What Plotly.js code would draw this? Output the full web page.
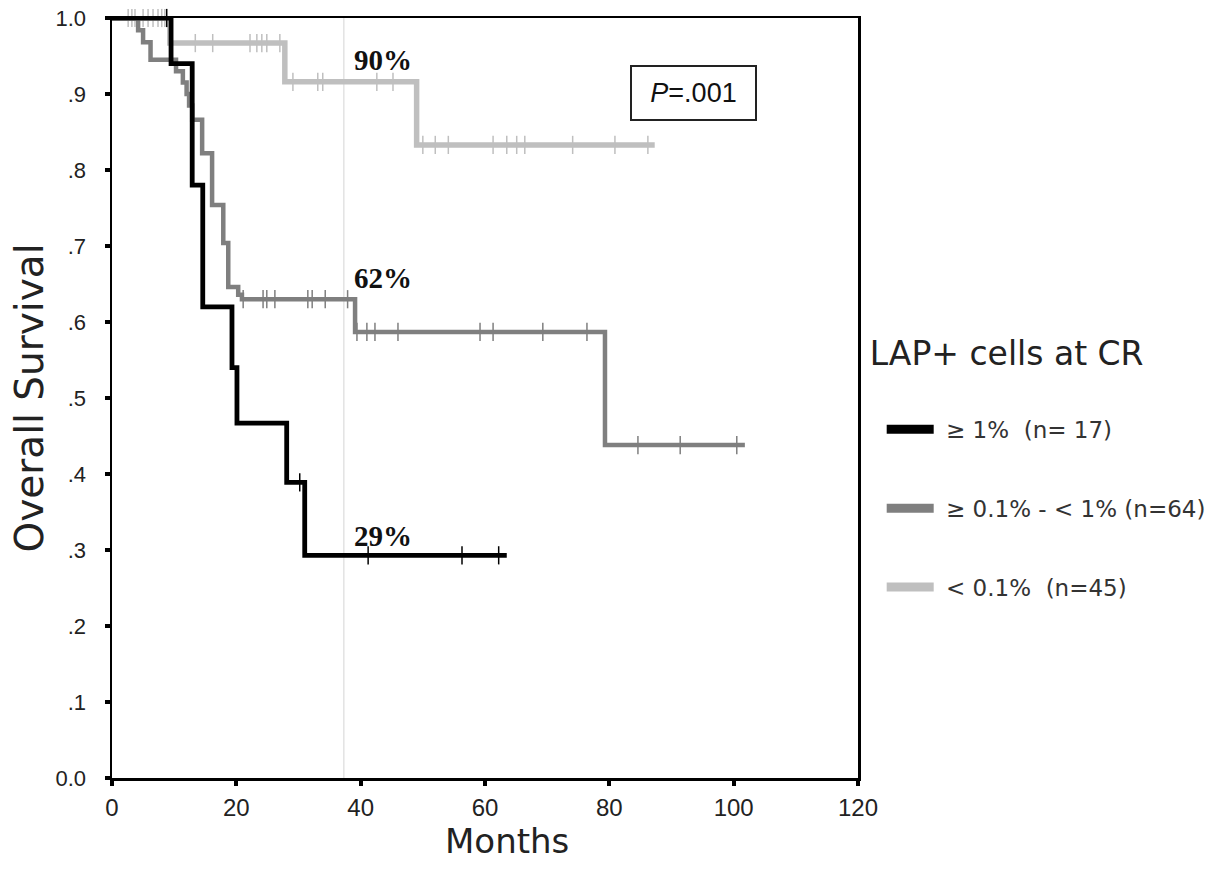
<!DOCTYPE html>
<html>
<head>
<meta charset="utf-8">
<script src="https://cdn.plot.ly/plotly-3.0.1.min.js"></script>
<style>html,body{margin:0;padding:0;background:#fff;}#chart{width:1211px;height:879px;}</style>
</head>
<body>
<div id="chart"></div>
<script>
// ---- Data ----
const groupNames = ["\u00a0\u2265 1%\u00a0\u00a0(n= 17)", "\u00a0\u2265 0.1% - < 1% (n=64)", "\u00a0< 0.1%\u00a0\u00a0(n=45)"];
const groupColors = ["#000000", "#7f7f7f", "#bfbfbf"];

// >= 1% (n=17)
const highTimes = [0, 9.5, 12.9, 14.6, 19.3, 20.1, 28.1, 31.0, 63.5];
const highSurv  = [1, 0.94, 0.78, 0.62, 0.54, 0.467, 0.389, 0.293, 0.293];
const highCensor = [8.8, 30.2, 41.2, 56.3, 62.2];

// >= 0.1% - < 1% (n=64)
const midTimes = [0, 4.2, 5.0, 6.2, 10.3, 11.4, 12.0, 12.4, 12.9, 14.5, 16.1, 17.9, 18.7, 20.3, 20.9, 39.1, 79.3, 101.8];
const midSurv  = [1, 0.984, 0.968, 0.945, 0.93, 0.915, 0.90, 0.885, 0.866, 0.822, 0.754, 0.704, 0.646, 0.636, 0.63, 0.587, 0.438, 0.438];
const midCensor = [21.1, 24.3, 24.9, 26.2, 31.5, 32.2, 34.3, 37.9, 39.4, 41.0, 42.3, 46.0, 59.2, 61.3, 69.3, 76.4, 84.6, 91.4, 100.5];

// < 0.1% (n=45)
const lowTimes = [0, 9.3, 27.8, 49.0, 87.3];
const lowSurv  = [1, 0.967, 0.916, 0.833, 0.833];
const lowCensor = [2.6, 3.2, 3.7, 5.0, 5.8, 6.6, 7.4, 8.0, 8.5, 13.4, 16.2, 22.2, 23.3, 24.1, 24.9, 27.0, 29.1, 33.1, 33.9, 42.6, 45.2, 50.0, 52.0, 54.1, 61.3, 63.5, 65.1, 66.4, 74.1, 80.9, 86.2];

// Annotations
const pctLabels = ["90%", "62%", "29%"];
const pctX = [43.6, 43.6, 43.6];
const pctY = [0.945, 0.658, 0.318];
const pValueText = "<i>P</i>=.001";
const refLineMonth = 37.3;
const xTitle = "Months";
const yTitle = "Overall Survival";
const legendTitle = "LAP+ cells at CR";

const yTickVals = [0, 0.1, 0.2, 0.3, 0.4, 0.5, 0.6, 0.7, 0.8, 0.9, 1.0];
const yTickText = ["0.0", ".1", ".2", ".3", ".4", ".5", ".6", ".7", ".8", ".9", "1.0"];
const xTickVals = [0, 20, 40, 60, 80, 100, 120];

// ---- helpers ----
function stepAt(times, surv, t) {
  let v = surv[0];
  for (let i = 0; i < times.length; i++) { if (times[i] <= t) v = surv[i]; }
  return v;
}
const font = "Arial, 'Liberation Sans', sans-serif";
const wideFont = "'DejaVu Sans', Verdana, sans-serif";

const curves = [
  {t: midTimes, s: midSurv, c: midCensor, idx: 1, w: 4.5},
  {t: lowTimes, s: lowSurv, c: lowCensor, idx: 2, w: 5.5},
  {t: highTimes, s: highSurv, c: highCensor, idx: 0, w: 4.8}
];
const traces = [];
curves.forEach(cv => {
  traces.push({
    x: cv.t, y: cv.s, type: 'scatter', mode: 'lines',
    line: {shape: 'hv', color: groupColors[cv.idx], width: cv.w},
    showlegend: false, hoverinfo: 'skip'
  });
  traces.push({
    x: cv.c, y: cv.c.map(t => stepAt(cv.t, cv.s, t)), type: 'scatter', mode: 'markers',
    marker: {symbol: 'line-ns-open', size: 13, color: groupColors[cv.idx], line: {width: 1.5, color: groupColors[cv.idx]}},
    showlegend: false, hoverinfo: 'skip', cliponaxis: false
  });
});
// legend entries
groupNames.forEach((nm, i) => {
  traces.push({
    x: [null], y: [null], type: 'scatter', mode: 'lines', name: nm,
    legendgroup: 'g' + i,
    line: {color: groupColors[i], width: 9}
  });
});

const annotations = pctLabels.map((txt, i) => ({
  x: pctX[i], y: pctY[i], xref: 'x', yref: 'y', text: '<b>' + txt + '</b>', showarrow: false,
  font: {family: "'Times New Roman', 'Liberation Serif', serif", size: 29, color: '#111'}
}));
annotations.push({
  x: 93.5, y: 0.901, xref: 'x', yref: 'y', text: pValueText, showarrow: false,
  font: {family: font, size: 27, color: '#111'},
  bordercolor: '#222', borderwidth: 2, borderpad: 0, width: 123, height: 52, bgcolor: '#fff'
});
// x-axis title (placed slightly right of centre, as in the original)
annotations.push({
  x: 0.5295, y: -0.0835, xref: 'paper', yref: 'paper', xanchor: 'center', yanchor: 'middle',
  text: xTitle, showarrow: false, font: {family: wideFont, size: 34, color: '#222'}
});

const layout = {
  width: 1211, height: 879,
  margin: {l: 112, r: 353, t: 18, b: 101, autoexpand: false},
  paper_bgcolor: '#fff', plot_bgcolor: '#fff',
  showlegend: true,
  legend: {
    x: 1.013, xanchor: 'left', y: 0.600, yanchor: 'top',
    title: {text: legendTitle + '<br>\u00a0', font: {family: wideFont, size: 33, color: '#222'}},
    font: {family: wideFont, size: 23, color: '#333'},
    tracegroupgap: 46, itemwidth: 47, indentation: 14,
    bgcolor: 'rgba(0,0,0,0)'
  },
  xaxis: {
    range: [0, 120], tickvals: xTickVals, ticks: 'outside', ticklen: 5, tickwidth: 4, tickcolor: '#000',
    showline: true, linecolor: '#000', linewidth: 2.5, mirror: true, showgrid: false, zeroline: false,
    tickfont: {family: font, size: 24, color: '#222'}, ticklabelstandoff: 2
  },
  yaxis: {
    range: [0, 1], tickvals: yTickVals, ticktext: yTickText, ticks: 'outside', ticklen: 5, tickwidth: 4, tickcolor: '#000',
    showline: true, linecolor: '#000', linewidth: 2.5, mirror: true, showgrid: false, zeroline: false,
    tickfont: {family: font, size: 22, color: '#222'}, ticklabelstandoff: 14,
    title: {text: yTitle, font: {family: wideFont, size: 39, color: '#222'}, standoff: 0}
  },
  shapes: [{
    type: 'line', xref: 'x', yref: 'y', x0: refLineMonth, x1: refLineMonth, y0: 0, y1: 1,
    line: {color: '#d4d4d4', width: 1}, layer: 'below'
  }],
  annotations: annotations
};

Plotly.newPlot('chart', traces, layout, {displayModeBar: false, staticPlot: true});
</script>
</body>
</html>
